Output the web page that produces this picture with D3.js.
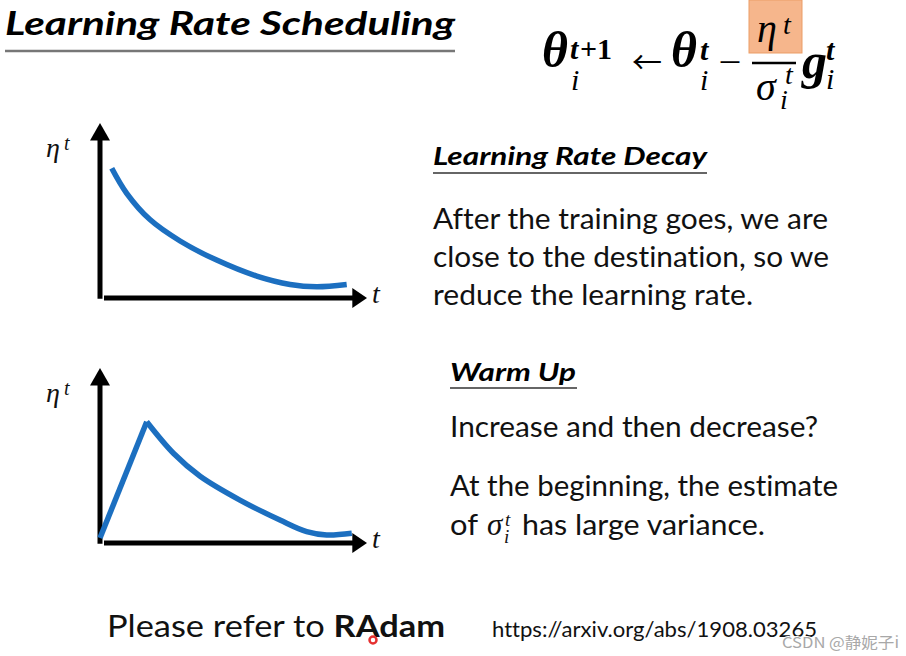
<!DOCTYPE html>
<html><head><meta charset="utf-8">
<script src="https://cdn.jsdelivr.net/npm/d3@7"></script>
<style>html,body{margin:0;padding:0;background:#fff;}svg{display:block;}text{font-variant-ligatures:none;font-feature-settings:"liga" 0;}</style>
</head><body>
<script>
// ---- data ----
const decayT   = [0.44, 1.0, 1.87, 3.0, 4.37, 5.87, 7.12, 8.12, 9.24];
const decayEta = [7.40, 5.96, 4.45, 3.22, 2.12, 1.20, 0.72, 0.59, 0.72];
const warmRiseT   = [0, 1.75];
const warmRiseEta = [0.23, 6.91];
const warmDecayT   = [1.75, 2.75, 3.75, 5.24, 6.74, 7.74, 8.49, 9.43];
const warmDecayEta = [6.91, 5.10, 3.78, 2.41, 1.26, 0.59, 0.40, 0.50];
const bodyDecay = ["After the training goes, we are", "close to the destination, so we", "reduce the learning rate."];
const bodyWarm1 = "Increase and then decrease?";
const bodyWarm2 = "At the beginning, the estimate";

const W = 906, H = 656, BLUE = "#1c6fc0";
const svg = d3.select("body").append("svg").attr("width", W).attr("height", H);
svg.append("rect").attr("width", W).attr("height", H).attr("fill", "#fff");

const sans = "Lato, 'Open Sans', sans-serif";
const serif = "'Liberation Serif', 'DejaVu Serif', serif";
const cjk = "'Noto Sans CJK SC', 'DejaVu Sans', sans-serif";

function txt(x, y, s, o = {}) {
  const t = svg.append("text").attr("x", x).attr("y", y).text(s)
    .attr("font-family", o.ff || sans).attr("font-size", o.fs || 20)
    .attr("fill", o.fill || "#111");
  if (o.fw) t.attr("font-weight", o.fw);
  if (o.it) t.attr("font-style", "italic");
  if (o.len) t.attr("textLength", o.len).attr("lengthAdjust", "spacingAndGlyphs");
  if (o.anchor) t.attr("text-anchor", o.anchor);
  return t;
}

// ---- title ----
txt(5, 35, "Learning Rate Scheduling", {fs: 32, fw: 700, it: true, len: 450, fill: "#000"});
svg.append("line").attr("x1", 5).attr("x2", 455).attr("y1", 51).attr("y2", 51).attr("stroke", "#777").attr("stroke-width", 2.5);

// ---- formula ----
const mf = {ff: serif, fill: "#000"};
txt(542, 67, "θ", {...mf, fs: 50, fw: 700, it: true});
txt(570, 59, "t", {...mf, fs: 30, fw: 700, it: true});
txt(580, 59, "+1", {...mf, fs: 30, fw: 700});
txt(571, 90, "i", {...mf, fs: 30, it: true});
txt(632, 73, "←", {ff: cjk, fs: 30, fill: "#000"});
txt(671, 67, "θ", {...mf, fs: 50, fw: 700, it: true});
txt(700, 60, "t", {...mf, fs: 30, fw: 700, it: true});
txt(700, 90, "i", {...mf, fs: 30, it: true});
txt(717, 72, "－", {ff: cjk, fs: 26, fill: "#000"});
svg.append("rect").attr("x", 749).attr("y", 0).attr("width", 53).attr("height", 53)
  .attr("fill", "#f6b68c").attr("stroke", "#eb9d66").attr("stroke-width", 1);
txt(757, 42, "η", {...mf, fs: 40, it: true});
txt(783, 34, "t", {...mf, fs: 28, it: true});
svg.append("line").attr("x1", 752).attr("x2", 796).attr("y1", 63).attr("y2", 63).attr("stroke", "#000").attr("stroke-width", 2.5);
txt(756, 100, "σ", {...mf, fs: 40, it: true});
txt(785, 84, "t", {...mf, fs: 28, it: true});
txt(780, 109, "i", {...mf, fs: 28, it: true});
txt(802, 78, "g", {...mf, fs: 50, fw: 700, it: true});
txt(826, 60, "t", {...mf, fs: 30, fw: 700, it: true});
txt(826, 89, "i", {...mf, fs: 30, it: true});

// ---- charts ----
function chart(oy, series) {
  const x = d3.scaleLinear().domain([0, 10]).range([100, 367]);
  const y = d3.scaleLinear().domain([0, 10]).range([oy, oy - 174]);
  const g = svg.append("g");
  g.append("line").attr("x1", x(0)).attr("x2", x(0)).attr("y1", y(-0.1)).attr("y2", y(9.2))
    .attr("stroke", "#000").attr("stroke-width", 5);
  g.append("path").attr("d", d3.line()([[x(0) - 10, y(9.0)], [x(0) + 10, y(9.0)], [x(0), y(10)]]) + "Z").attr("fill", "#000");
  g.append("line").attr("x1", x(0.15)).attr("x2", x(9.6)).attr("y1", y(0) + 1).attr("y2", y(0) + 1)
    .attr("stroke", "#000").attr("stroke-width", 5);
  g.append("path").attr("d", d3.line()([[x(9.45), y(0) + 11], [x(9.45), y(0) - 9], [x(10), y(0) + 1]]) + "Z").attr("fill", "#000");
  series.forEach(s => {
    const pts = s.t.map((t, i) => [x(t), y(s.v[i])]);
    g.append("path").attr("d", d3.line().curve(s.curve)(pts))
      .attr("fill", "none").attr("stroke", BLUE).attr("stroke-width", 5.5)
      .attr("stroke-linecap", "butt").attr("stroke-linejoin", "miter");
  });
  txt(46, oy - 140, "η", {ff: serif, fs: 28, it: true, fill: "#111"});
  txt(64, oy - 147, "t", {ff: serif, fs: 20, it: true, fill: "#111"});
  txt(372, oy + 6, "t", {ff: serif, fs: 28, it: true, fill: "#111"});
}
const smooth = d3.curveCatmullRom.alpha(0.5);
chart(297, [{t: decayT, v: decayEta, curve: smooth}]);
chart(542, [
  {t: warmRiseT.concat(warmDecayT.slice(0, 1)), v: warmRiseEta.concat(warmDecayEta.slice(0, 1)), curve: d3.curveLinear},
  {t: warmDecayT, v: warmDecayEta, curve: smooth}
]);

// ---- right texts ----
txt(433, 165, "Learning Rate Decay", {fs: 24, fw: 700, it: true, len: 274, fill: "#000"});
svg.append("line").attr("x1", 433).attr("x2", 707).attr("y1", 173).attr("y2", 173).attr("stroke", "#666").attr("stroke-width", 2);
const decayLens = [395, 396, 320];
bodyDecay.forEach((s, i) => txt(433, 229 + i * 38, s, {fs: 29, len: decayLens[i]}));

txt(450, 381, "Warm Up", {fs: 24, fw: 700, it: true, len: 126, fill: "#000"});
svg.append("line").attr("x1", 450).attr("x2", 577).attr("y1", 388).attr("y2", 388).attr("stroke", "#666").attr("stroke-width", 2);
txt(450, 437, bodyWarm1, {fs: 29, len: 368});
txt(450, 496, bodyWarm2, {fs: 29, len: 388});
txt(450, 535, "of", {fs: 29, len: 28});
txt(487, 535, "σ", {ff: serif, fs: 31, it: true});
txt(505, 526, "t", {ff: serif, fs: 19, it: true});
txt(504, 543, "i", {ff: serif, fs: 19, it: true});
txt(522, 535, "has large variance.", {fs: 29, len: 243});

// ---- bottom ----
const pl = txt(107, 637, "", {fs: 31, len: 338});
pl.append("tspan").text("Please refer to ");
pl.append("tspan").attr("font-weight", 700).text("RAdam");
txt(492, 637, "https://arxiv.org/abs/1908.03265", {fs: 22, len: 325});
svg.append("circle").attr("cx", 373).attr("cy", 640).attr("r", 3.5).attr("fill", "#fff").attr("stroke", "#e53030").attr("stroke-width", 2.5);
txt(782, 648, "CSDN @静妮子i", {ff: "'Noto Sans CJK SC', sans-serif", fs: 15, len: 117, fill: "#a8a8a8"})
  .attr("stroke", "#fff").attr("stroke-width", 2).attr("paint-order", "stroke");
</script>
</body></html>
